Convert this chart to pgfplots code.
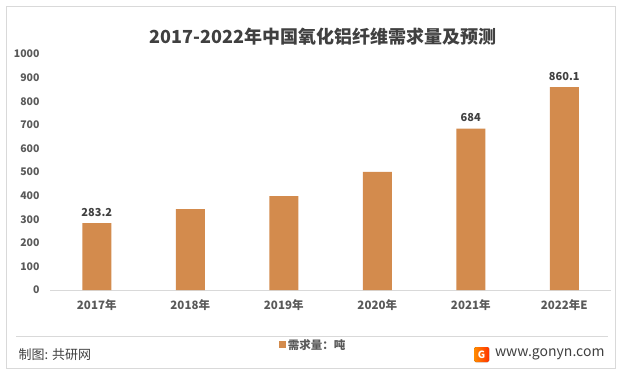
\documentclass[border=0pt]{standalone}
\usepackage{fontspec}
\setmainfont{Noto Sans CJK SC}
\usepackage{pgfplots}
\pgfplotsset{compat=1.18}
\definecolor{barc}{RGB}{211,139,77}
\definecolor{titlec}{RGB}{64,64,64}
\definecolor{tickc}{RGB}{89,89,89}
\definecolor{linec}{RGB}{217,217,217}
\begin{document}
\begin{tikzpicture}
\useasboundingbox (0,0) rectangle (621pt,-371pt);
\draw[linec, line width=0.8pt] (6pt,-6pt) rectangle (615pt,-368pt);
\draw[linec, line width=0.8pt] (16pt,-336pt) -- (608pt,-336pt);
\node[text=titlec, font=\bfseries\fontsize{18}{18}\selectfont] at (323pt,-37pt) {2017-2022年中国氧化铝纤维需求量及预测};
\begin{axis}[
  at={(50pt,-290pt)}, anchor=south west,
  scale only axis, width=561pt, height=236pt,
  ymin=0, ymax=1000, xmin=-0.5, xmax=5.5,
  ytick={0,100,...,1000},
  xtick={0,...,5},
  xticklabels={2017年,2018年,2019年,2020年,2021年,2022年E},
  axis y line*=left,
  axis x line*=bottom,
  y axis line style={draw=none},
  x axis line style={linec, line width=0.8pt, -},
  major tick length=0pt,
  ybar, bar width=29pt, bar shift=0pt,
  clip=false,
  /pgf/number format/assume math mode=true,
  /pgf/number format/1000 sep={},
  tick label style={text=tickc, font=\bfseries\fontsize{10.5}{11}\selectfont},
  xticklabel style={yshift=-6pt, font=\bfseries\fontsize{11.5}{12}\selectfont},
  yticklabel style={xshift=-7pt},
  legend style={at={(0.469,-0.233)}, anchor=center, draw=none, fill=none,
    font=\bfseries\fontsize{11.5}{12}\selectfont, text=tickc,
    legend cell align=left, inner sep=0pt},
  legend image code/.code={\fill[barc] (0pt,-3.5pt) rectangle (7pt,3.5pt);},
]
\addplot[fill=barc, draw=none] coordinates {(0,283.2) (1,343) (2,398) (3,500) (4,684) (5,860.1)};
\addlegendentry{需求量：吨}
\addplot[fill=none, draw=none, forget plot,
  nodes near coords, point meta=explicit symbolic,
  every node near coord/.append style={text=titlec, font=\bfseries\fontsize{11}{11}\selectfont, yshift=3pt}]
  coordinates {(0,283.2) [283.2] (4,684) [684] (5,860.1) [860.1]};
\end{axis}
\node[anchor=west, text=titlec, font=\fontsize{13}{13}\selectfont] at (15pt,-355pt) {制图: 共研网};
\fill[left color=orange!90!yellow, right color=red!60!orange, rounded corners=1.5pt] (474pt,-347pt) rectangle (489pt,-362pt);
\node[text=white, font=\bfseries\fontsize{10}{10}\selectfont] at (481.5pt,-354.5pt) {G};
\node[anchor=east, text=titlec, font=\fontsize{14}{14}\selectfont] at (608pt,-354pt) {www.gonyn.com};
\end{tikzpicture}
\end{document}
